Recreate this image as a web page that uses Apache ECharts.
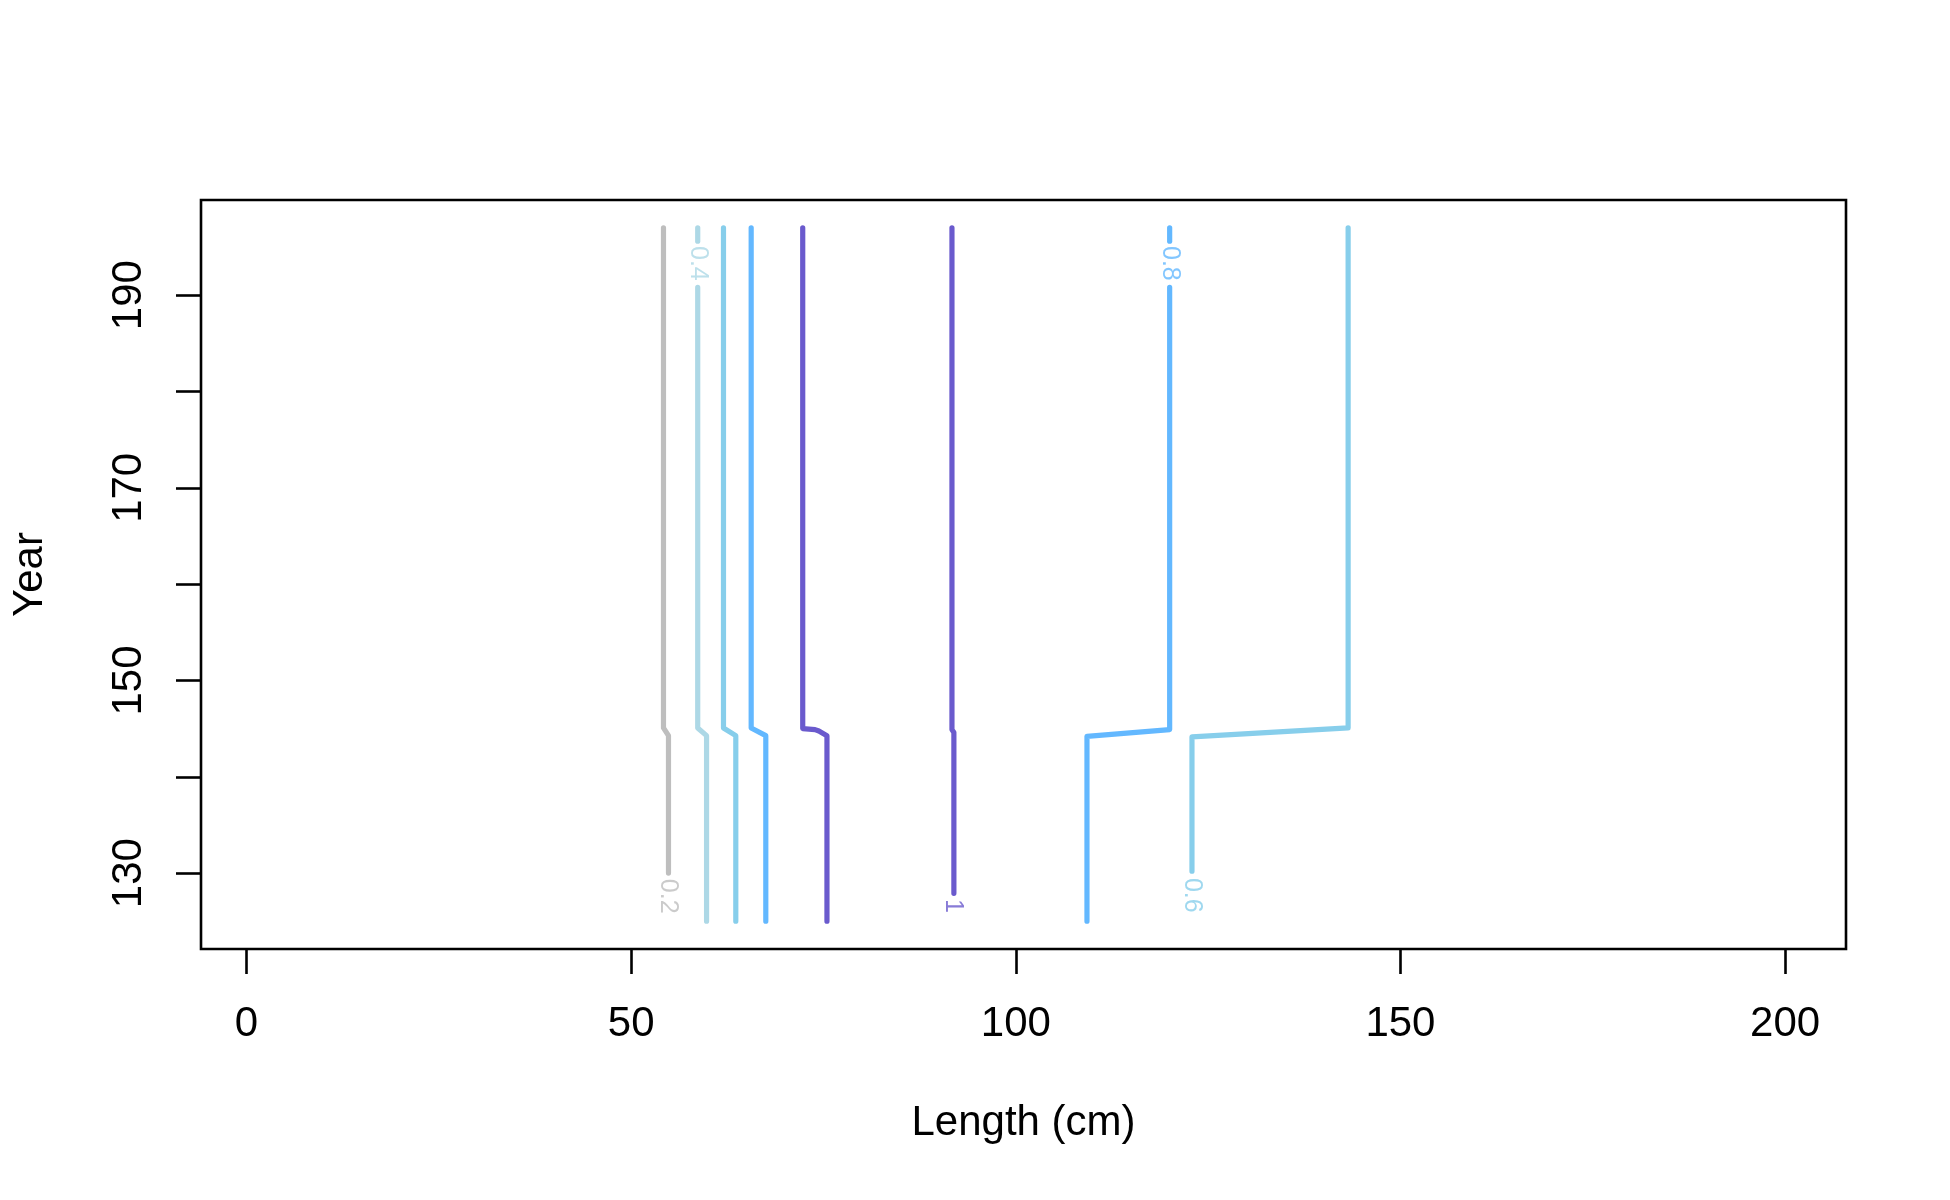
<!DOCTYPE html>
<html>
<head>
<meta charset="utf-8">
<script src="https://cdn.jsdelivr.net/npm/echarts@6/dist/echarts.min.js"></script>
<style>html,body{margin:0;padding:0;background:#fff;}#c{width:1950px;height:1200px;}</style>
</head>
<body>
<div id="c"></div>
<script>
// ---- data (x = length cm, y = year) ----
const xTicks = [0, 50, 100, 150, 200];
const yTicks = [130, 140, 150, 160, 170, 180, 190];
const yTickLabels = [130, 150, 170, 190];
const levelNames = ['0.2', '0.4', '0.6', '0.8', '1'];

// contour paths, each an array of segments (gaps where labels sit)
const contour02 = [[[54.2,197],[54.2,145.07],[54.85,144.27],[54.85,130.0]]];
const contour04 = [[[58.65,197],[58.65,195.6]],
                   [[58.65,190.8],[58.65,145.07],[59.8,144.27],[59.8,125]]];
const contour06a = [[[62.0,197],[62.0,145.07],[63.6,144.27],[63.6,125]]];
const contour06b = [[[143.2,197],[143.2,145.07],[122.9,144.15],[122.9,130.2]]];
const contour08a = [[[65.6,197],[65.6,145.07],[67.5,144.27],[67.5,125]]];
const contour08b = [[[120.0,197],[120.0,195.6]],
                    [[120.0,190.8],[120.0,144.9],[109.25,144.2],[109.25,125]]];
const contour1a = [[[72.3,197],[72.3,145.0],[73.9,144.9],[74.4,144.75],[75.45,144.27],[75.45,125]]];
const contour1b = [[[91.7,197],[91.7,144.9],[91.95,144.6],[91.95,127.9]]];

// label anchor points for each contour label
const label02 = [54.8, 127.6];
const label04 = [58.65, 193.3];
const label06 = [122.9, 127.7];
const label08 = [120.0, 193.3];
const label1 = [91.85, 126.6];

// ---- styling ----
const colors = {
  '0.2': '#BEBEBE', '0.4': '#ADD8E6', '0.6': '#87CEEB', '0.8': '#63B8FF', '1': '#6A5ACD'
};
const FONT = 'Liberation Sans, Arial, sans-serif';

const series = [];
function addContour(paths, level) {
  paths.forEach(seg => {
    series.push({
      type: 'line', data: seg, showSymbol: false, symbol: 'none', silent: true,
      lineStyle: { color: colors[level], width: 5.2, cap: 'round', join: 'round' },
      z: 2
    });
  });
}
addContour(contour02, '0.2');
addContour(contour04, '0.4');
addContour(contour06a, '0.6');
addContour(contour06b, '0.6');
addContour(contour08a, '0.8');
addContour(contour08b, '0.8');
addContour(contour1a, '1');
addContour(contour1b, '1');

function addLabel(pt, level) {
  series.push({
    type: 'scatter', data: [pt], symbolSize: 0, silent: true, z: 3,
    label: {
      show: true, position: 'inside', formatter: level, rotate: -90,
      color: colors[level], fontSize: 25, fontFamily: FONT,
      align: 'center', verticalAlign: 'middle'
    }
  });
}
addLabel(label02, levelNames[0]);
addLabel(label04, levelNames[1]);
addLabel(label06, levelNames[2]);
addLabel(label08, levelNames[3]);
addLabel(label1, levelNames[4]);

const chart = echarts.init(document.getElementById('c'), null, { renderer: 'canvas' });
chart.setOption({
  animation: false,
  backgroundColor: '#ffffff',
  grid: {
    left: 201, top: 200, right: 104, bottom: 251, containLabel: false,
    show: true, borderColor: '#000', borderWidth: 2.6, backgroundColor: 'transparent'
  },
  xAxis: {
    type: 'value', min: -5.92, max: 207.92, position: 'bottom',
    name: 'Length (cm)', nameLocation: 'middle', nameGap: 153,
    nameTextStyle: { fontSize: 42, fontFamily: FONT, color: '#000' },
    axisLine: { show: false, onZero: false },
    splitLine: { show: false },
    axisTick: { show: true, customValues: xTicks, length: 25, lineStyle: { color: '#000', width: 2.6 } },
    axisLabel: { show: true, customValues: xTicks, margin: 54, fontSize: 42, fontFamily: FONT, color: '#000' }
  },
  yAxis: {
    type: 'value', min: 122.12, max: 199.88, position: 'left',
    name: 'Year', nameLocation: 'middle', nameGap: 150, nameRotate: 90,
    nameTextStyle: { fontSize: 42, fontFamily: FONT, color: '#000' },
    axisLine: { show: false, onZero: false },
    splitLine: { show: false },
    axisTick: { show: true, customValues: yTicks, length: 25, lineStyle: { color: '#000', width: 2.6 } },
    axisLabel: { show: true, customValues: yTickLabels, rotate: 90, margin: 51, fontSize: 42, fontFamily: FONT, color: '#000' }
  },
  series: series
});
</script>
</body>
</html>
